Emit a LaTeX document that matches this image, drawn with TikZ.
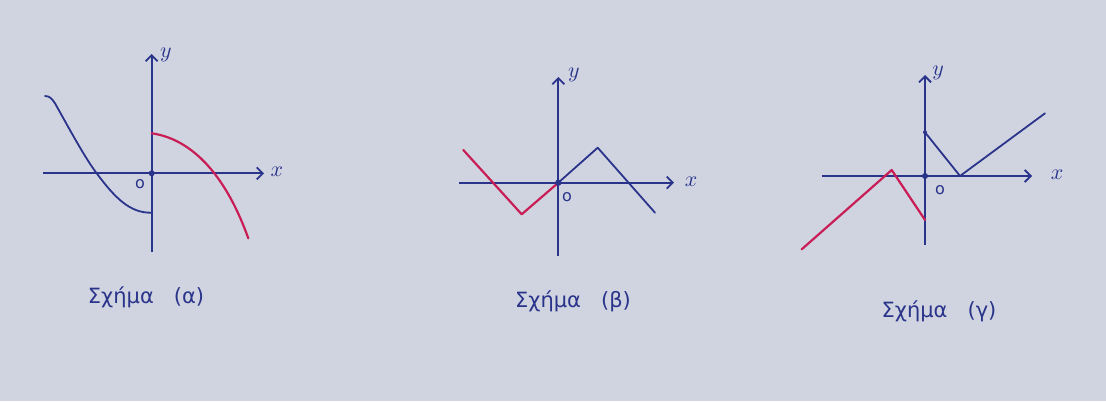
\documentclass[tikz,border=0pt]{standalone}
\usepackage{fontspec}
\newfontfamily\handfont{DejaVu Sans}
\usetikzlibrary{arrows.meta}
\definecolor{paper}{RGB}{208,212,225}
\definecolor{ink}{RGB}{42,52,138}
\definecolor{redink}{RGB}{200,30,85}
\tikzset{
  axis/.style={draw=ink, line width=0.9pt, -{Straight Barb[length=3pt,width=6pt]}},
  bluecurve/.style={draw=ink, line width=0.9pt, line join=round, line cap=round},
  redcurve/.style={draw=redink, line width=1.1pt, line join=round, line cap=round},
  lbl/.style={text=ink, font=\fontsize{11}{12}\selectfont, inner sep=0pt},
  olbl/.style={text=ink, font=\handfont\fontsize{8}{9}\selectfont, inner sep=0pt},
  caption/.style={text=ink, font=\handfont\fontsize{10.5}{13}\selectfont, inner sep=0pt},
  origin/.style={circle, fill=ink, inner sep=0pt, minimum size=3pt}
}
\begin{document}
\begin{tikzpicture}[x=0.5pt,y=-0.5pt]
\fill[paper] (0,0) rectangle (1106,401);
\useasboundingbox (0,0) rectangle (1106,401);

% ---------- Figure (a) ----------
\coordinate (a-xl) at (43,173.3);
\coordinate (a-xr) at (264,173.3);
\coordinate (a-yb) at (151.7,252);
\coordinate (a-yt) at (151.7,54);
\draw[axis] (a-xl) -- (a-xr);
\draw[axis] (a-yb) -- (a-yt);
\node[origin] (a-o) at (151.7,173.3) {};
\node[lbl] (a-xlab) at (277,172) {$x$};
\node[lbl] (a-ylab) at (166,55) {$y$};
\node[olbl] (a-olab) at (140,184) {o};
\draw[bluecurve] (45,96) .. controls (50,96) and (52,99) .. (55,103.3)
  .. controls (70,130) and (85,158) .. (96.7,173.3)
  .. controls (115,198) and (130,213) .. (151,212.7);
\draw[redcurve] (151.7,133.3) .. controls (185,138) and (222,165) .. (248.3,238.3);
\node[caption] (a-cap) at (146,297) {Σχήμα\hspace{10pt}(α)};

% ---------- Figure (b) ----------
\coordinate (b-xl) at (459,182.7);
\coordinate (b-xr) at (674,182.7);
\coordinate (b-yb) at (558.3,256);
\coordinate (b-yt) at (558.3,77);
\draw[axis] (b-xl) -- (b-xr);
\draw[axis] (b-yb) -- (b-yt);
\coordinate (b-r1) at (463.3,150);
\coordinate (b-r2) at (521.7,214.3);
\coordinate (b-b1) at (597.7,147.7);
\coordinate (b-b2) at (655,212.7);
\node[origin] (b-o) at (558.3,182.7) {};
\draw[redcurve] (b-r1) -- (b-r2) -- (b-o.center);
\draw[bluecurve] (b-o.center) -- (b-b1) -- (b-b2);
\node[origin] at (b-o) {};
\node[lbl] (b-xlab) at (691,182) {$x$};
\node[lbl] (b-ylab) at (574,75) {$y$};
\node[olbl] (b-olab) at (567,197) {o};
\node[caption] (b-cap) at (573,301) {Σχήμα\hspace{10pt}(β)};

% ---------- Figure (c) ----------
\coordinate (c-xl) at (821.7,176);
\coordinate (c-xr) at (1032,176);
\coordinate (c-yb) at (925,245);
\coordinate (c-yt) at (925,75);
\draw[axis] (c-xl) -- (c-xr);
\draw[axis] (c-yb) -- (c-yt);
\node[origin] (c-o) at (925,176) {};
\coordinate (c-b0) at (925,132.3);
\coordinate (c-b1) at (960,176);
\coordinate (c-b2) at (1045,113.3);
\coordinate (c-r0) at (801.7,249.3);
\coordinate (c-r1) at (891.7,170);
\coordinate (c-r2) at (925,220);
\draw[bluecurve] (c-b0) -- (c-b1) -- (c-b2);
\fill[ink] (c-b0) circle (1pt);
\draw[redcurve] (c-r0) -- (c-r1) -- (c-r2);
\node[lbl] (c-xlab) at (1057,175) {$x$};
\node[lbl] (c-ylab) at (938,73) {$y$};
\node[olbl] (c-olab) at (940,190) {o};
\node[caption] (c-cap) at (939,311) {Σχήμα\hspace{10pt}(γ)};
\end{tikzpicture}
\end{document}
